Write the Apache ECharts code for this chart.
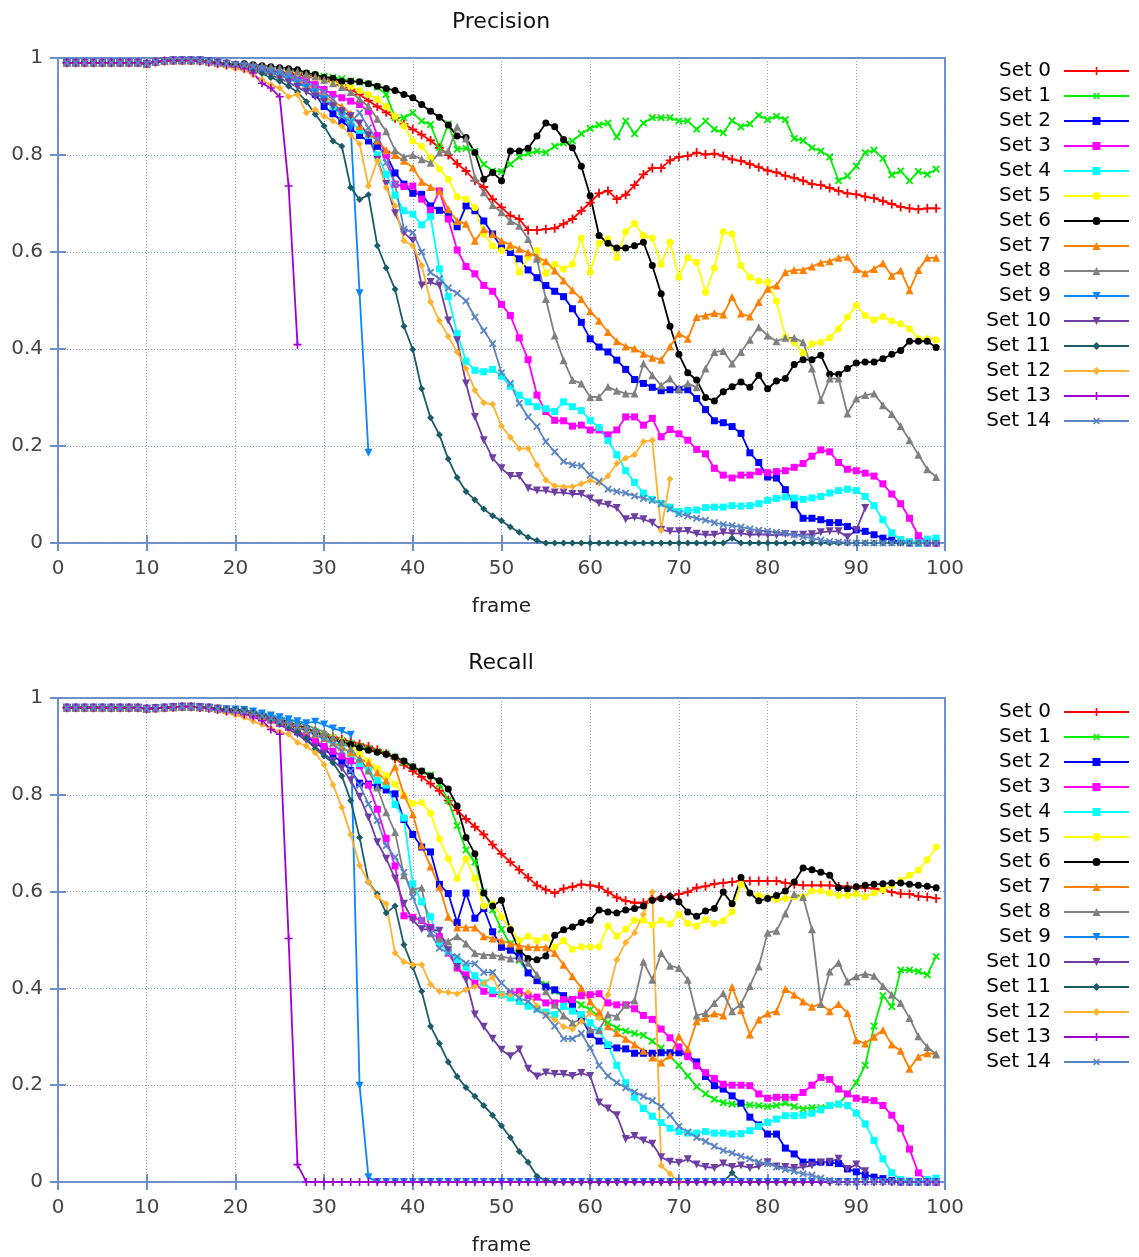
<!DOCTYPE html>
<html>
<head>
<meta charset="utf-8">
<title>Precision / Recall per frame</title>
<script src="https://cdn.jsdelivr.net/npm/echarts@6/dist/echarts.min.js"></script>
<style>
  html, body { margin: 0; padding: 0; background: #fff; }
  #chart { width: 1139px; height: 1257px; }
</style>
</head>
<body>
<div id="chart"></div>
<script>
// ---- series names and tick values ----
const setNames = ['Set 0','Set 1','Set 2','Set 3','Set 4','Set 5','Set 6','Set 7','Set 8','Set 9','Set 10','Set 11','Set 12','Set 13','Set 14'];
const frameTicks = [0,10,20,30,40,50,60,70,80,90,100];
const scoreTicks = [0,0.2,0.4,0.6,0.8,1];

// ---- precision per frame (frame 1 .. n) ----
const precisionSet0 = [.99,.99,.99,.99,.99,.99,.99,.99,.99,.988, .992,.994,.995,.995,.995,.995,.993,.99,.988,.985,
 .982,.98,.978,.975,.972,.97,.967,.963,.96,.956, .952,.945,.935,.925,.912,.9,.888,.876,.864,.853,
 .842,.83,.815,.8,.782,.767,.747,.734,.709,.692, .675,.668,.645,.645,.647,.649,.658,.668,.685,.702,
 .721,.726,.709,.718,.738,.76,.773,.773,.789,.796, .798,.805,.801,.803,.798,.791,.788,.781,.775,.768,
 .764,.757,.753,.747,.74,.738,.732,.726,.721,.719, .714,.711,.705,.699,.693,.69,.688,.69,.69];
const precisionSet1 = [.99,.99,.99,.99,.99,.99,.99,.99,.99,.988, .992,.994,.995,.995,.995,.995,.993,.99,.988,.985,
 .983,.981,.979,.977,.975,.972,.97,.968,.965,.962, .96,.957,.953,.95,.947,.94,.925,.877,.877,.887,
 .87,.863,.815,.864,.812,.814,.807,.781,.767,.766, .781,.796,.803,.808,.805,.818,.825,.829,.844,.855,
 .862,.866,.837,.87,.844,.866,.877,.877,.877,.87, .87,.853,.87,.853,.846,.871,.858,.864,.882,.873,
 .88,.873,.834,.83,.815,.808,.796,.747,.757,.777, .805,.81,.793,.759,.767,.747,.766,.76,.771];
const precisionSet2 = [.99,.99,.99,.99,.99,.99,.99,.99,.99,.988, .992,.994,.995,.995,.995,.995,.993,.99,.988,.985,
 .982,.978,.975,.97,.965,.958,.95,.94,.925,.9, .885,.87,.855,.84,.829,.818,.801,.763,.74,.721,
 .719,.695,.686,.678,.652,.695,.685,.664,.637,.61, .599,.586,.563,.547,.531,.519,.508,.483,.455,.421,
 .404,.394,.377,.358,.337,.329,.321,.314,.316,.316, .316,.298,.275,.252,.248,.24,.226,.186,.166,.136,
 .134,.11,.079,.051,.051,.048,.042,.042,.034,.027, .024,.017,.01,.006,.003,0,0,0,0];
const precisionSet3 = [.99,.99,.99,.99,.99,.99,.99,.99,.99,.988, .992,.994,.995,.995,.995,.995,.993,.99,.988,.985,
 .985,.983,.98,.977,.973,.968,.962,.955,.945,.935, .925,.918,.911,.904,.89,.84,.8,.74,.735,.736,
 .709,.686,.726,.668,.604,.57,.555,.531,.519,.492, .469,.423,.378,.305,.271,.253,.252,.241,.243,.233,
 .233,.223,.233,.26,.26,.243,.257,.219,.234,.225, .212,.193,.184,.154,.14,.134,.14,.14,.147,.145,
 .147,.149,.156,.164,.179,.192,.188,.166,.152,.149, .144,.138,.122,.101,.081,.051,.015,.002,0];
const precisionSet4 = [.99,.99,.99,.99,.99,.99,.99,.99,.99,.988, .992,.994,.995,.995,.995,.995,.993,.99,.988,.985,
 .982,.978,.974,.97,.965,.958,.95,.94,.93,.915, .9,.885,.87,.851,.84,.8,.76,.717,.685,.678,
 .656,.673,.565,.508,.432,.375,.356,.353,.358,.344, .323,.305,.291,.281,.277,.271,.291,.281,.273,.253,
 .238,.211,.182,.149,.125,.103,.09,.082,.074,.065, .067,.068,.073,.074,.074,.077,.076,.077,.081,.088,
 .092,.095,.093,.09,.093,.096,.103,.108,.111,.108, .096,.077,.048,.021,.007,.003,0,.008,.01];
const precisionSet5 = [.99,.99,.99,.99,.99,.99,.99,.99,.99,.988, .992,.994,.995,.995,.995,.995,.993,.99,.988,.985,
 .985,.983,.98,.978,.975,.972,.969,.965,.96,.955, .95,.945,.94,.933,.925,.915,.9,.88,.86,.829,
 .818,.795,.771,.75,.714,.709,.692,.637,.613,.603, .61,.558,.589,.603,.556,.575,.565,.575,.629,.558,
 .618,.627,.588,.642,.659,.634,.629,.575,.62,.548, .588,.579,.517,.567,.642,.637,.572,.548,.54,.538,
 .499,.425,.414,.392,.411,.414,.423,.442,.466,.49, .469,.46,.467,.458,.452,.442,.421,.421,.419];
const precisionSet6 = [.99,.99,.99,.99,.99,.99,.99,.99,.99,.988, .992,.994,.995,.995,.995,.995,.993,.99,.988,.987,
 .988,.986,.984,.982,.98,.978,.976,.969,.966,.96, .958,.952,.952,.951,.947,.942,.937,.933,.925,.918,
 .904,.89,.878,.862,.839,.836,.805,.75,.764,.747, .808,.808,.814,.839,.866,.858,.832,.815,.777,.716,
 .634,.618,.608,.608,.613,.62,.572,.514,.447,.389, .351,.336,.3,.293,.312,.322,.332,.321,.346,.318,
 .334,.339,.368,.378,.378,.387,.348,.348,.36,.371, .373,.373,.38,.389,.397,.416,.416,.416,.403];
const precisionSet7 = [.99,.99,.99,.99,.99,.99,.99,.99,.99,.988, .992,.994,.995,.995,.995,.995,.993,.99,.988,.985,
 .983,.98,.976,.972,.967,.962,.955,.946,.935,.92, .91,.9,.885,.86,.845,.83,.81,.8,.788,.774,
 .745,.734,.726,.688,.664,.658,.623,.647,.637,.623, .615,.606,.599,.59,.581,.562,.541,.521,.503,.478,
 .458,.435,.416,.405,.401,.39,.382,.378,.405,.432, .421,.466,.469,.474,.471,.507,.473,.467,.497,.524,
 .531,.558,.563,.563,.57,.578,.581,.588,.59,.565, .556,.565,.577,.551,.562,.521,.563,.588,.588];
const precisionSet8 = [.99,.99,.99,.99,.99,.99,.99,.99,.99,.988, .992,.994,.995,.995,.995,.995,.993,.99,.988,.987,
 .988,.986,.984,.982,.979,.976,.972,.967,.962,.955, .948,.94,.93,.915,.9,.875,.849,.81,.796,.8,
 .791,.784,.805,.808,.858,.834,.753,.723,.697,.682, .664,.654,.627,.586,.503,.428,.377,.336,.329,.301,
 .301,.322,.314,.308,.308,.37,.346,.325,.339,.318, .329,.321,.36,.394,.396,.37,.394,.419,.445,.428,
 .416,.423,.423,.414,.36,.295,.339,.339,.267,.298, .305,.308,.284,.266,.241,.212,.182,.152,.136];
const precisionSet9 = [.99,.99,.99,.99,.99,.99,.99,.99,.99,.988, .992,.994,.995,.995,.995,.995,.993,.99,.988,.985,
 .982,.978,.974,.97,.965,.958,.95,.94,.93,.915, .9,.885,.856,.515,.186];
const precisionSet10 = [.99,.99,.99,.99,.99,.99,.99,.99,.99,.988, .992,.994,.995,.995,.995,.995,.993,.99,.988,.985,
 .98,.975,.97,.965,.958,.95,.94,.93,.92,.91, .9,.89,.88,.865,.84,.79,.74,.68,.64,.623,
 .531,.538,.531,.459,.418,.329,.26,.212,.175,.154, .138,.138,.113,.108,.108,.104,.104,.101,.101,.092,
 .082,.079,.072,.049,.053,.049,.042,.027,.024,.024, .025,.019,.017,.017,.022,.02,.02,.017,.018,.017,
 .016,.018,.017,.017,.018,.022,.024,.024,.012,.027, .072];
const precisionSet11 = [.99,.99,.99,.99,.99,.99,.99,.99,.99,.988, .992,.994,.995,.995,.995,.995,.993,.99,.988,.985,
 .98,.975,.968,.96,.952,.942,.93,.91,.884,.86, .829,.818,.733,.708,.718,.613,.567,.523,.447,.399,
 .318,.258,.223,.173,.135,.106,.089,.07,.056,.046, .033,.022,.012,.005,0,0,0,0,0,0,
 0,0,0,0,0,0,0,0,0,0, 0,0,0,0,0,.01,0,0,0,0,
 0,0,0,0,0,0,0,0,0,0, 0,0,0,0,0,0,0,0,0];
const precisionSet12 = [.99,.99,.99,.99,.99,.99,.99,.99,.99,.988, .992,.994,.995,.995,.995,.993,.99,.985,.982,.978,
 .975,.965,.955,.945,.938,.92,.925,.887,.894,.88, .87,.86,.841,.823,.736,.788,.733,.695,.623,.613,
 .572,.497,.458,.426,.394,.36,.315,.289,.286,.241, .218,.195,.195,.161,.13,.118,.116,.116,.122,.129,
 .123,.138,.164,.175,.182,.209,.212,.027,.132];
const precisionSet13 = [.99,.99,.99,.99,.99,.99,.99,.99,.99,.988, .992,.994,.995,.995,.995,.993,.99,.988,.985,.982,
 .978,.969,.948,.938,.92,.736,.409];
const precisionSet14 = [.99,.99,.99,.99,.99,.99,.99,.99,.99,.988, .992,.994,.995,.995,.995,.995,.993,.99,.988,.987,
 .985,.982,.978,.974,.97,.965,.958,.95,.94,.93, .915,.88,.868,.887,.856,.832,.784,.74,.647,.64,
 .6,.558,.545,.526,.515,.499,.466,.438,.411,.351, .329,.288,.26,.24,.209,.188,.168,.161,.159,.14,
 .127,.111,.106,.103,.097,.092,.088,.081,.07,.06, .056,.051,.047,.042,.038,.036,.033,.029,.026,.024,
 .022,.02,.017,.013,.01,.006,.003,.002,.001,0, 0,0,0,0,0,0,0,0,0];

// ---- recall per frame (frame 1 .. n) ----
const recallSet0 = [.98,.98,.98,.98,.98,.98,.98,.98,.98,.978, .979,.98,.981,.982,.982,.981,.98,.978,.975,.972,
 .968,.964,.96,.955,.95,.945,.94,.935,.93,.925, .92,.915,.91,.905,.9,.893,.885,.875,.862,.849,
 .837,.823,.808,.788,.768,.75,.734,.718,.697,.678, .661,.645,.629,.613,.604,.597,.606,.61,.615,.613,
 .61,.599,.588,.581,.577,.577,.584,.588,.59,.595, .599,.608,.611,.616,.618,.62,.622,.622,.622,.622,
 .622,.618,.615,.613,.613,.613,.613,.611,.611,.608, .608,.606,.604,.599,.596,.595,.59,.589,.586];
const recallSet1 = [.98,.98,.98,.98,.98,.98,.98,.98,.98,.978, .979,.98,.981,.982,.982,.981,.98,.978,.975,.972,
 .97,.966,.962,.958,.953,.948,.942,.936,.93,.924, .918,.912,.906,.9,.895,.89,.885,.878,.868,.858,
 .849,.841,.822,.788,.736,.686,.661,.599,.562,.522, .492,.458,.432,.418,.408,.394,.384,.378,.366,.356,
 .342,.329,.318,.312,.307,.303,.291,.277,.26,.241, .219,.197,.182,.171,.164,.161,.161,.159,.158,.156,
 .158,.163,.156,.151,.154,.154,.158,.161,.182,.205, .241,.322,.385,.362,.438,.438,.435,.428,.466];
const recallSet2 = [.98,.98,.98,.98,.98,.98,.98,.98,.98,.978, .979,.98,.981,.982,.982,.981,.98,.978,.975,.972,
 .97,.965,.96,.955,.948,.94,.93,.92,.908,.895, .88,.869,.85,.824,.822,.818,.81,.802,.749,.718,
 .692,.682,.615,.596,.536,.597,.545,.565,.517,.485, .479,.466,.432,.416,.403,.397,.385,.363,.339,.305,
 .291,.282,.277,.275,.266,.266,.266,.267,.267,.267, .262,.248,.218,.199,.192,.178,.163,.134,.118,.099,
 .099,.07,.058,.041,.041,.041,.04,.038,.027,.021, .015,.01,.007,.003,0,0,0,0,0];
const recallSet3 = [.98,.98,.98,.98,.98,.98,.98,.98,.98,.978, .979,.98,.981,.982,.982,.981,.98,.978,.975,.972,
 .97,.965,.96,.955,.948,.94,.932,.922,.912,.9, .89,.88,.87,.86,.82,.77,.71,.653,.55,.547,
 .54,.526,.507,.473,.442,.428,.411,.394,.389,.387, .389,.394,.385,.382,.37,.37,.377,.377,.385,.387,
 .389,.37,.366,.366,.358,.344,.336,.316,.298,.279, .259,.24,.226,.214,.202,.2,.2,.199,.182,.173,
 .175,.175,.175,.185,.2,.216,.212,.192,.182,.173, .17,.168,.158,.138,.111,.068,.019,.003,0];
const recallSet4 = [.98,.98,.98,.98,.98,.98,.98,.98,.98,.978, .979,.98,.981,.982,.982,.981,.98,.978,.975,.972,
 .972,.968,.964,.96,.955,.95,.944,.937,.93,.92, .91,.9,.885,.865,.85,.83,.82,.78,.752,.616,
 .579,.548,.493,.476,.46,.444,.426,.411,.396,.387, .38,.373,.363,.358,.351,.346,.363,.353,.346,.329,
 .312,.284,.241,.205,.175,.152,.136,.123,.111,.104, .101,.101,.104,.101,.101,.099,.1,.106,.115,.123,
 .13,.137,.137,.138,.142,.149,.158,.161,.158,.142, .12,.086,.048,.019,.005,.002,0,.005,.008];
const recallSet5 = [.98,.98,.98,.98,.98,.98,.98,.98,.98,.978, .979,.98,.981,.982,.982,.981,.98,.978,.975,.972,
 .972,.968,.963,.958,.953,.948,.942,.936,.93,.924, .918,.91,.9,.885,.87,.855,.84,.822,.798,.782,
 .784,.762,.709,.668,.627,.668,.627,.57,.575,.548, .524,.499,.508,.499,.505,.485,.499,.481,.486,.486,
 .486,.529,.508,.522,.541,.541,.531,.541,.533,.553, .534,.529,.542,.534,.54,.558,.615,.597,.592,.588,
 .584,.586,.589,.589,.601,.601,.597,.592,.592,.595, .589,.597,.604,.613,.623,.634,.644,.666,.692];
const recallSet6 = [.98,.98,.98,.98,.98,.98,.98,.98,.98,.978, .979,.98,.981,.982,.982,.981,.98,.978,.977,.976,
 .975,.97,.965,.96,.955,.95,.944,.938,.93,.922, .915,.908,.904,.897,.892,.888,.884,.878,.87,.858,
 .849,.839,.829,.812,.777,.712,.678,.597,.57,.582, .521,.479,.462,.459,.467,.51,.521,.527,.536,.541,
 .562,.558,.556,.562,.565,.57,.582,.586,.59,.579, .558,.549,.56,.565,.599,.575,.629,.597,.581,.586,
 .592,.601,.62,.649,.645,.64,.634,.608,.606,.61, .613,.615,.616,.618,.618,.615,.613,.611,.608];
const recallSet7 = [.98,.98,.98,.98,.98,.98,.98,.98,.98,.978, .979,.98,.981,.982,.982,.981,.98,.978,.975,.972,
 .972,.968,.963,.958,.952,.946,.94,.933,.925,.917, .908,.898,.888,.875,.866,.846,.829,.858,.8,.76,
 .695,.652,.61,.548,.526,.526,.526,.508,.503,.499, .493,.488,.486,.485,.485,.473,.449,.425,.401,.373,
 .351,.322,.308,.296,.284,.271,.257,.247,.262,.301, .275,.332,.339,.348,.344,.403,.355,.305,.336,.348,
 .353,.399,.387,.373,.362,.368,.353,.368,.349,.293, .286,.3,.314,.284,.271,.234,.259,.266,.264];
const recallSet8 = [.98,.98,.98,.98,.98,.98,.98,.98,.98,.978, .979,.98,.981,.982,.982,.981,.98,.978,.977,.976,
 .975,.972,.968,.964,.96,.955,.95,.944,.937,.93, .92,.91,.895,.875,.85,.815,.764,.723,.634,.604,
 .608,.514,.503,.497,.508,.493,.473,.469,.469,.466, .462,.462,.453,.428,.394,.366,.344,.329,.336,.315,
 .314,.346,.342,.366,.375,.455,.418,.473,.447,.442, .418,.344,.349,.37,.39,.353,.368,.405,.445,.515,
 .519,.555,.595,.589,.522,.368,.435,.453,.414,.425, .43,.426,.405,.387,.37,.339,.301,.279,.264];
const recallSet9 = [.98,.98,.98,.98,.98,.98,.98,.98,.98,.978, .979,.98,.981,.982,.982,.981,.98,.978,.977,.976,
 .975,.972,.968,.964,.96,.956,.952,.948,.951,.945, .937,.932,.924,.199,.01,0,0,0,0,0,
 0,0,0,0,0,0,0,0,0,0, 0,0,0,0,0,0,0,0,0,0,
 0,0,0,0,0,0,0,0,0,0, 0,0,0,0,0,0,0,0,0,0,
 0,0,0,0,0,0,0,0,0,0, 0,0,0,0,0,0,0,0,0];
const recallSet10 = [.98,.98,.98,.98,.98,.98,.98,.98,.98,.978, .979,.98,.981,.982,.982,.981,.98,.978,.975,.972,
 .97,.965,.96,.952,.945,.935,.925,.912,.898,.885, .87,.855,.83,.796,.753,.702,.668,.627,.575,.541,
 .522,.522,.519,.479,.444,.418,.346,.321,.296,.273, .26,.274,.234,.218,.226,.223,.223,.219,.225,.219,
 .164,.152,.138,.089,.095,.086,.079,.051,.042,.04, .047,.036,.031,.029,.038,.031,.034,.029,.032,.041,
 .032,.031,.029,.031,.034,.04,.042,.048,.027,.036, .022];
const recallSet11 = [.98,.98,.98,.98,.98,.98,.98,.98,.98,.978, .979,.98,.981,.982,.982,.981,.98,.978,.977,.976,
 .975,.97,.963,.956,.948,.94,.93,.918,.895,.88, .866,.839,.788,.712,.62,.595,.556,.57,.49,.444,
 .394,.322,.286,.248,.218,.195,.177,.158,.138,.116, .092,.063,.041,.012,.003,0,0,0,0,0,
 0,0,0,0,0,0,0,0,0,0, 0,0,0,0,0,.019,0,0,0,0,
 0,0,0,0,0,0,0,0,0,0, 0,0,0,0,0,0,0,0,0];
const recallSet12 = [.98,.98,.98,.98,.98,.98,.98,.98,.98,.978, .979,.98,.981,.982,.982,.98,.977,.974,.97,.965,
 .96,.952,.945,.938,.93,.925,.908,.901,.887,.862, .821,.774,.718,.654,.62,.59,.575,.473,.455,.449,
 .449,.408,.394,.392,.389,.397,.404,.411,.423,.387, .387,.385,.392,.363,.346,.336,.321,.316,.332,.349,
 .339,.387,.459,.495,.515,.553,.599,.034,.017,0];
const recallSet13 = [.98,.98,.98,.98,.98,.98,.98,.98,.98,.978, .979,.98,.981,.982,.982,.98,.978,.975,.972,.97,
 .966,.962,.953,.935,.925,.503,.036,0,0,0, 0,0,0,0,0,0,0,0,0,0,
 0,0,0,0,0,0,0,0,0,0, 0,0,0,0,0,0,0,0,0,0,
 0,0,0,0,0,0,0,0,0,0, 0,0,0,0,0,0,0,0,0,0,
 0,0,0,0,0,0,0,0,0,0, 0,0,0,0,0,0,0,0,0];
const recallSet14 = [.98,.98,.98,.98,.98,.98,.98,.98,.98,.978, .979,.98,.981,.982,.982,.981,.98,.978,.976,.974,
 .972,.968,.963,.958,.952,.946,.94,.932,.924,.915, .905,.89,.849,.82,.781,.747,.695,.671,.64,.589,
 .541,.514,.483,.473,.466,.452,.451,.433,.433,.411, .394,.38,.373,.356,.344,.322,.296,.296,.307,.277,
 .241,.219,.205,.195,.186,.177,.168,.156,.138,.115, .103,.092,.084,.074,.065,.06,.053,.048,.041,.038,
 .031,.026,.022,.017,.014,.008,.003,0,0,0, 0,0,0,0,0,0,0,0,0];

const precisionData = [precisionSet0,precisionSet1,precisionSet2,precisionSet3,precisionSet4,precisionSet5,precisionSet6,precisionSet7,precisionSet8,precisionSet9,precisionSet10,precisionSet11,precisionSet12,precisionSet13,precisionSet14];
const recallData = [recallSet0,recallSet1,recallSet2,recallSet3,recallSet4,recallSet5,recallSet6,recallSet7,recallSet8,recallSet9,recallSet10,recallSet11,recallSet12,recallSet13,recallSet14];

// ---- styling ----
const palette = ['#ff0000','#00ee00','#0000ff','#ff00ff','#00ffff','#ffff00','#000000','#ff7f00','#808080','#0a84ff','#6f3ea3','#1b5c68','#ffb22e','#a100d0','#5b84c4'];
const plusPath = 'path://M4,0h2v4h4v2h-4v4h-2v-4h-4v-2h4z';
const markers = [
  { symbol: plusPath, size: 9, rotate: 0 },
  { symbol: plusPath, size: 9, rotate: 45 },
  { symbol: 'rect', size: 7, rotate: 0 },
  { symbol: 'rect', size: 7, rotate: 0 },
  { symbol: 'rect', size: 7, rotate: 0 },
  { symbol: 'circle', size: 7, rotate: 0 },
  { symbol: 'circle', size: 7, rotate: 0 },
  { symbol: 'triangle', size: 8, rotate: 0 },
  { symbol: 'triangle', size: 8, rotate: 0 },
  { symbol: 'triangle', size: 8, rotate: 180 },
  { symbol: 'triangle', size: 8, rotate: 180 },
  { symbol: 'diamond', size: 7, rotate: 0 },
  { symbol: 'diamond', size: 7, rotate: 0 },
  { symbol: plusPath, size: 8, rotate: 0 },
  { symbol: plusPath, size: 9, rotate: 45 }
];
const frameColor = '#6b8fc6';
const gridLineColor = '#7d9ad0';
const fontFamily = '"DejaVu Sans", sans-serif';

function buildSeries(values, k, axisIndex) {
  return {
    name: setNames[k],
    type: 'line',
    xAxisIndex: axisIndex,
    yAxisIndex: axisIndex,
    data: values.map((v, i) => [i + 1, v]),
    color: palette[k],
    symbol: markers[k].symbol,
    symbolSize: markers[k].size,
    symbolRotate: markers[k].rotate,
    showSymbol: true,
    showAllSymbol: true,
    lineStyle: { width: 1.8, color: palette[k] },
    itemStyle: { color: palette[k], borderWidth: 0 },
    emphasis: { disabled: true },
    animation: false
  };
}

function xAxisPair(gridIndex) {
  return [
    {
      gridIndex, type: 'value', min: frameTicks[0], max: frameTicks[frameTicks.length - 1], interval: 10,
      position: 'bottom',
      name: 'frame', nameLocation: 'middle', nameGap: 54,
      nameTextStyle: { fontSize: 20, color: '#222', fontFamily },
      axisLine: { show: false },
      axisTick: { show: true, inside: true, length: 8, lineStyle: { color: frameColor, width: 2 } },
      axisLabel: { fontSize: 20, color: '#444', margin: 16, fontFamily },
      splitLine: { show: true, lineStyle: { color: gridLineColor, width: 1, type: [1, 2] } }
    },
    {
      gridIndex, type: 'value', min: frameTicks[0], max: frameTicks[frameTicks.length - 1], interval: 10,
      position: 'top',
      axisLine: { show: false },
      axisTick: { show: true, inside: true, length: 8, lineStyle: { color: frameColor, width: 2 } },
      axisLabel: { show: false },
      splitLine: { show: false }
    }
  ];
}

function yAxisPair(gridIndex) {
  return [
    {
      gridIndex, type: 'value', min: scoreTicks[0], max: scoreTicks[scoreTicks.length - 1], interval: 0.2,
      position: 'left',
      axisLine: { show: false },
      axisTick: { show: true, inside: true, length: 8, lineStyle: { color: frameColor, width: 2 } },
      axisLabel: { fontSize: 20, color: '#444', margin: 15, fontFamily,
        formatter: v => (v === 0 || v === 1) ? String(v) : v.toFixed(1) },
      splitLine: { show: true, lineStyle: { color: gridLineColor, width: 1, type: [1, 2] } }
    },
    {
      gridIndex, type: 'value', min: scoreTicks[0], max: scoreTicks[scoreTicks.length - 1], interval: 0.2,
      position: 'right',
      axisLine: { show: false },
      axisTick: { show: true, inside: true, length: 8, lineStyle: { color: frameColor, width: 2 } },
      axisLabel: { show: false },
      splitLine: { show: false }
    }
  ];
}

function legendAt(top) {
  return {
    data: setNames,
    orient: 'vertical',
    right: 9,
    top,
    align: 'right',
    padding: 0,
    itemWidth: 65,
    itemHeight: 10,
    itemGap: 5,
    selectedMode: false,
    textStyle: { fontSize: 20, color: '#000', fontFamily, padding: [0, 8, 0, 0] }
  };
}

const series = [];
precisionData.forEach((vals, k) => series.push(buildSeries(vals, k, 0)));
recallData.forEach((vals, k) => series.push(buildSeries(vals, k, 2)));

const option = {
  backgroundColor: '#ffffff',
  animation: false,
  title: [
    { text: 'Precision', left: 496, top: 6, textAlign: 'center',
      textStyle: { fontSize: 22, fontWeight: 'normal', color: '#111', fontFamily } },
    { text: 'Recall', left: 496, top: 647, textAlign: 'center',
      textStyle: { fontSize: 22, fontWeight: 'normal', color: '#111', fontFamily } }
  ],
  grid: [
    { left: 58, top: 58, width: 887, height: 485, show: true, borderColor: frameColor, borderWidth: 2, backgroundColor: 'transparent' },
    { left: 58, top: 698, width: 887, height: 486, show: true, borderColor: frameColor, borderWidth: 2, backgroundColor: 'transparent' }
  ],
  xAxis: [...xAxisPair(0), ...xAxisPair(1)],
  yAxis: [...yAxisPair(0), ...yAxisPair(1)],
  legend: [legendAt(61), legendAt(702)],
  series
};

const chart = echarts.init(document.getElementById('chart'), null, { renderer: 'canvas' });
chart.setOption(option);
</script>
</body>
</html>
